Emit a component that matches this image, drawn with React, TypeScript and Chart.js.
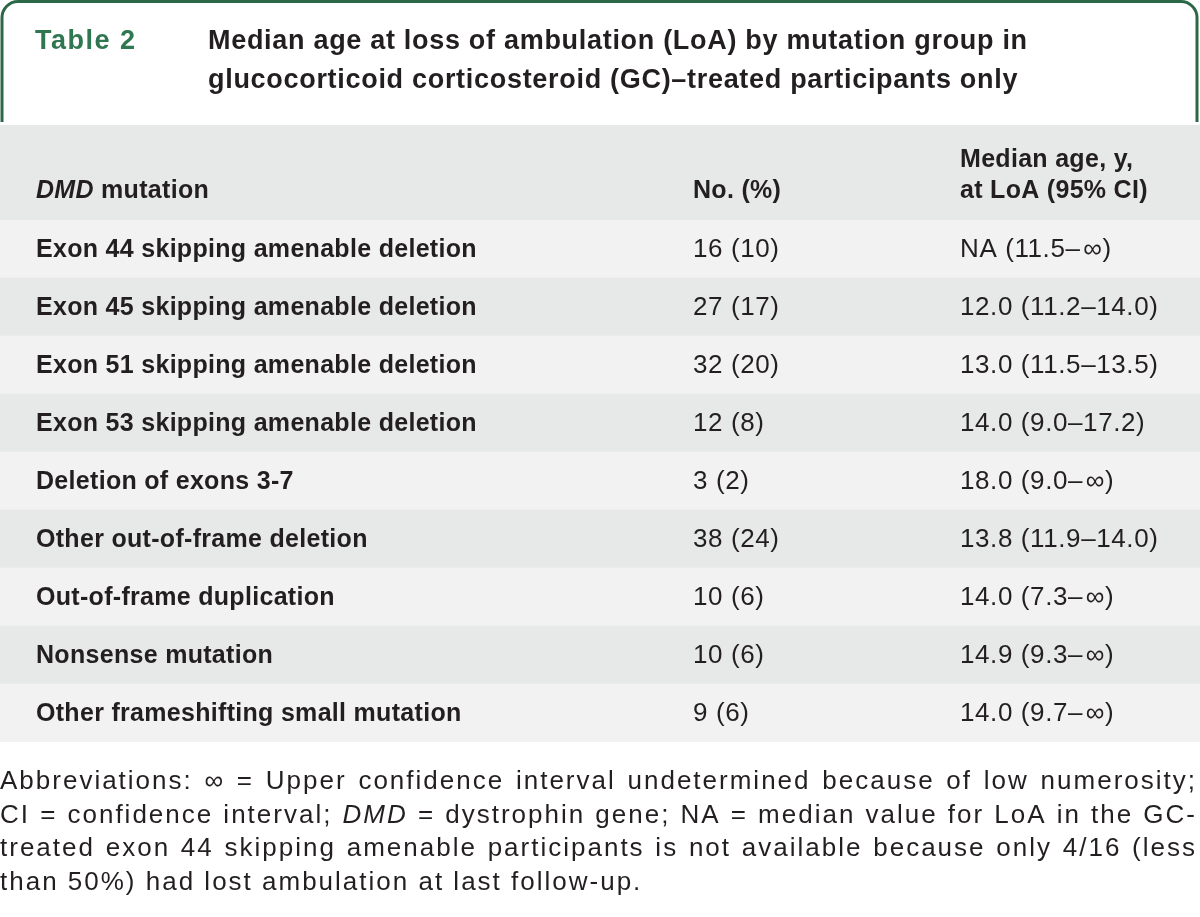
import React, { useEffect, useRef } from "react";
import { Chart, registerables } from "chart.js";

Chart.register(...registerables);

// ---- Data ----
const tableLabel = "Table 2";
const titleLines = [
  "Median age at loss of ambulation (LoA) by mutation group in",
  "glucocorticoid corticosteroid (GC)–treated participants only",
];
const mutations = [
  "Exon 44 skipping amenable deletion",
  "Exon 45 skipping amenable deletion",
  "Exon 51 skipping amenable deletion",
  "Exon 53 skipping amenable deletion",
  "Deletion of exons 3-7",
  "Other out-of-frame deletion",
  "Out-of-frame duplication",
  "Nonsense mutation",
  "Other frameshifting small mutation",
];
const counts = [16, 27, 32, 12, 3, 38, 10, 10, 9];
const percents = [10, 17, 20, 8, 2, 24, 6, 6, 6];
const medians = ["NA", "12.0", "13.0", "14.0", "18.0", "13.8", "14.0", "14.9", "14.0"];
const ciLow = ["11.5", "11.2", "11.5", "9.0", "9.0", "11.9", "7.3", "9.3", "9.7"];
const ciHigh = ["∞", "14.0", "13.5", "17.2", "∞", "14.0", "∞", "∞", "∞"];
const headerCol1 = ["DMD", " mutation"];
const headerCol2 = "No. (%)";
const headerCol3 = ["Median age, y,", "at LoA (95% CI)"];
// footnote: words beginning with "_" are italic
const footnoteLines = [
  "Abbreviations: ∞ = Upper confidence interval undetermined because of low numerosity;",
  "CI = confidence interval; _DMD = dystrophin gene; NA = median value for LoA in the GC-",
  "treated exon 44 skipping amenable participants is not available because only 4/16 (less",
  "than 50%) had lost ambulation at last follow-up.",
];

// ---- Style / layout ----
const W = 1200;
const H = 917;
const FONT = '"Liberation Sans", Arial, sans-serif';
const TEXT = "#231f20";
const GREEN_LINE = "#2c6747";
const GREEN_TEXT = "#2f7750";
const ROW_DARK = "#e7e8e8";
const ROW_LIGHT = "#f2f2f2";
const TABLE_TOP = 125;
const TABLE_BOTTOM = 742;
const HEADER_ROW_H = 95;
const COL_X = [0.03, 0.5775, 0.8]; // fractions of table width

function cellText(i: number) {
  const hi = ciHigh[i] === "∞" ? "\u200a∞" : ciHigh[i];
  return `${medians[i]} (${ciLow[i]}–${hi})`;
}

const tablePlugin = {
  id: "tablePlugin",
  beforeDatasetsDraw(chart: any) {
    const ctx = chart.ctx as CanvasRenderingContext2D;
    const area = chart.chartArea;
    ctx.save();
    // header row band
    ctx.fillStyle = ROW_DARK;
    ctx.fillRect(area.left, area.top - HEADER_ROW_H, area.right - area.left, HEADER_ROW_H);
    // title frame
    const r = 16;
    const l = 2, t = 1.5, rr = W - 3, b = 122;
    ctx.strokeStyle = GREEN_LINE;
    ctx.lineWidth = 3;
    ctx.beginPath();
    ctx.moveTo(l, b);
    ctx.lineTo(l, t + r);
    ctx.arcTo(l, t, l + r, t, r);
    ctx.lineTo(rr - r, t);
    ctx.arcTo(rr, t, rr, t + r, r);
    ctx.lineTo(rr, b);
    ctx.stroke();
    // title texts
    ctx.textBaseline = "alphabetic";
    ctx.textAlign = "left";
    ctx.font = `bold 27px ${FONT}`;
    (ctx as any).letterSpacing = "1.5px";
    ctx.fillStyle = GREEN_TEXT;
    ctx.fillText(tableLabel, 35, 49);
    (ctx as any).letterSpacing = "0.7px";
    ctx.fillStyle = TEXT;
    titleLines.forEach((s, k) => ctx.fillText(s, 208, 49 + k * 39));
    ctx.restore();
  },
  afterDatasetsDraw(chart: any) {
    const ctx = chart.ctx as CanvasRenderingContext2D;
    const xs = chart.scales.x;
    const ys = chart.scales.y;
    const area = chart.chartArea;
    const x0 = xs.getPixelForValue(COL_X[0]);
    const x1 = xs.getPixelForValue(COL_X[1]);
    const x2 = xs.getPixelForValue(COL_X[2]);
    ctx.save();
    ctx.textBaseline = "middle";
    ctx.textAlign = "left";
    ctx.fillStyle = TEXT;
    // header row
    const hy = area.top - 29;
    (ctx as any).letterSpacing = "0.3px";
    ctx.font = `italic bold 25px ${FONT}`;
    ctx.fillText(headerCol1[0], x0, hy);
    const w = ctx.measureText(headerCol1[0]).width;
    ctx.font = `bold 25px ${FONT}`;
    ctx.fillText(headerCol1[1], x0 + w, hy);
    ctx.fillText(headerCol2, x1, hy);
    ctx.fillText(headerCol3[0], x2, hy - 31);
    ctx.fillText(headerCol3[1], x2, hy);
    // rows
    mutations.forEach((m, i) => {
      const y = ys.getPixelForValue(i) + 1;
      (ctx as any).letterSpacing = "0.3px";
      ctx.font = `bold 25px ${FONT}`;
      ctx.fillText(m, x0, y);
      (ctx as any).letterSpacing = "0.6px";
      ctx.font = `26px ${FONT}`;
      ctx.fillText(`${counts[i]} (${percents[i]})`, x1, y);
      ctx.fillText(cellText(i), x2, y);
    });
    // footnote (justified)
    (ctx as any).letterSpacing = "2px";
    ctx.textBaseline = "alphabetic";
    const FS = 26;
    const fx0 = 0, fx1 = W - 3;
    footnoteLines.forEach((line, k) => {
      const words = line.split(" ").map((s) => ({ it: s.startsWith("_"), s: s.replace(/^_/, "") }));
      const widths = words.map((wd) => {
        ctx.font = `${wd.it ? "italic " : ""}${FS}px ${FONT}`;
        return ctx.measureText(wd.s).width;
      });
      const total = widths.reduce((a, b) => a + b, 0);
      const last = k === footnoteLines.length - 1;
      ctx.font = `${FS}px ${FONT}`;
      const gap = last ? ctx.measureText(" ").width : (fx1 - fx0 - total) / (words.length - 1);
      let x = fx0;
      const y = 789 + k * 33.5;
      words.forEach((wd, j) => {
        ctx.font = `${wd.it ? "italic " : ""}${FS}px ${FONT}`;
        ctx.fillText(wd.s, x, y);
        x += widths[j] + gap;
      });
    });
    ctx.restore();
  },
};

export default function App() {
  const ref = useRef<HTMLCanvasElement | null>(null);
  useEffect(() => {
    if (!ref.current) return;
    const chart = new Chart(ref.current, {
      type: "bar",
      data: {
        labels: mutations,
        datasets: [
          {
            data: mutations.map(() => [0, 1]) as any,
            backgroundColor: mutations.map((_, i) => (i % 2 === 0 ? ROW_LIGHT : ROW_DARK)),
            borderWidth: 0,
            barPercentage: 1,
            categoryPercentage: 1,
          },
        ],
      },
      options: {
        indexAxis: "y",
        responsive: false,
        animation: false,
        devicePixelRatio: 1,
        layout: { padding: { top: TABLE_TOP + HEADER_ROW_H, bottom: H - TABLE_BOTTOM, left: 0, right: 0 } },
        scales: {
          x: { type: "linear", min: 0, max: 1, display: false },
          y: { type: "category", display: false },
        },
        plugins: { legend: { display: false }, tooltip: { enabled: false }, title: { display: false } },
      },
      plugins: [tablePlugin],
    });
    return () => chart.destroy();
  }, []);
  return (
    <div style={{ position: "absolute", left: 0, top: 0, width: W, height: H, background: "#fff" }}>
      <canvas ref={ref} width={W} height={H} style={{ display: "block" }} />
    </div>
  );
}
